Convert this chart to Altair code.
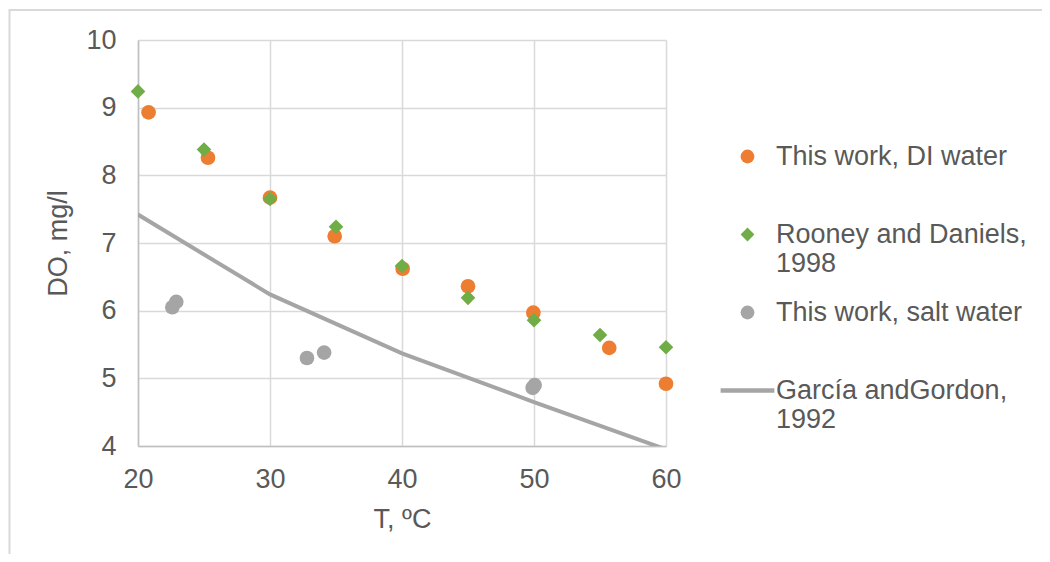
import altair as alt
import pandas as pd

# --- data ---
di_T = [20.8, 25.3, 30.0, 34.9, 40.05, 45.0, 49.95, 55.7, 60.0]
di_DO = [8.93, 8.26, 7.67, 7.10, 6.62, 6.36, 5.97, 5.45, 4.92]

rd_T = [20.0, 25.0, 30.0, 35.0, 40.0, 45.0, 50.0, 55.0, 60.0]
rd_DO = [9.24, 8.38, 7.65, 7.24, 6.66, 6.19, 5.86, 5.64, 5.46]

salt_T = [22.6, 22.9, 32.8, 34.1, 49.9, 50.05]
salt_DO = [6.05, 6.13, 5.30, 5.38, 4.86, 4.90]

gg_T = [20, 30, 40, 50, 60]
gg_DO = [7.42, 6.24, 5.37, 4.65, 3.95]

series_names = [
    "This work, DI water",
    "Rooney and Daniels,|1998",
    "This work, salt water",
    "García andGordon,|1992",
]
series_colors = ["#ED7D31", "#70AD47", "#A5A5A5", "#A5A5A5"]
line_path = "M-3.9,-0.32H3.9V0.32H-3.9Z"
series_shapes = ["circle", "diamond", "circle", line_path]

x_ticks = [20, 30, 40, 50, 60]
y_ticks = [4, 5, 6, 7, 8, 9, 10]

rows = []
for name, ts, vs in [
    (series_names[0], di_T, di_DO),
    (series_names[1], rd_T, rd_DO),
    (series_names[2], salt_T, salt_DO),
    (series_names[3], gg_T, gg_DO),
]:
    for t, v in zip(ts, vs):
        rows.append({"series": name, "T": t, "DO": v})
df = pd.DataFrame(rows)

FONT = "Liberation Sans"
TXT = "#595959"

x_enc = alt.X(
    "T:Q",
    scale=alt.Scale(domain=[20, 60], nice=False, zero=False),
    axis=alt.Axis(
        values=x_ticks,
        title="T, ºC",
        grid=True,
        tickSize=0,
        labelFlush=False,
        labelPadding=20,
        titlePadding=14,
    ),
)
y_enc = alt.Y(
    "DO:Q",
    scale=alt.Scale(domain=[4, 10], nice=False, zero=False),
    axis=alt.Axis(
        values=y_ticks,
        title="DO, mg/l",
        grid=True,
        tickSize=0,
        labelFlush=False,
        labelPadding=22,
        titlePadding=13,
    ),
)

# chart-area frame (Excel chart border, partly cropped in the reference)
frame = (
    alt.Chart(alt.Data(values=[{}]))
    .mark_rect(filled=False, stroke="#D9D9D9", strokeWidth=2, clip=False)
    .encode(
        x=alt.value(-128.5),
        x2=alt.value(930),
        y=alt.value(-30),
        y2=alt.value(560),
    )
)

line = (
    alt.Chart(df)
    .transform_filter(alt.datum.series == series_names[3])
    .mark_line(color="#A5A5A5", strokeWidth=4, clip=True)
    .encode(x=x_enc, y=y_enc, order="T:Q")
)

points = (
    alt.Chart(df)
    .transform_filter(alt.datum.series != series_names[3])
    .mark_point(filled=True, size=215, opacity=1, strokeWidth=0)
    .encode(
        x=x_enc,
        y=y_enc,
        color=alt.Color(
            "series:N",
            scale=alt.Scale(domain=series_names, range=series_colors),
            sort=series_names,
            legend=alt.Legend(
                title=None,
                orient="none",
                legendX=596,
                legendY=103,
                padding=0,
                symbolSize=190,
                symbolStrokeWidth=0,
                labelOffset=15,
                labelFontSize=27,
                labelFont=FONT,
                labelColor=TXT,
                labelLimit=400,
                rowPadding=21,
                labelExpr="split(datum.label + (indexof(datum.label, '|') >= 0 ? '' : '|'), '|')",
            ),
        ),
        shape=alt.Shape(
            "series:N",
            scale=alt.Scale(domain=series_names, range=series_shapes),
            sort=series_names,
        ),
    )
)

chart = (
    alt.layer(frame, line, points)
    .properties(
        width=528,
        height=406,
        autosize=alt.AutoSizeParams(type="none"),
        padding={"left": 130, "top": 32, "right": 376, "bottom": 108},
    )
    .configure_view(stroke=None)
    .configure_axis(
        labelFont=FONT,
        titleFont=FONT,
        labelFontSize=27,
        titleFontSize=27,
        labelColor=TXT,
        titleColor=TXT,
        titleFontWeight="normal",
        gridColor="#D9D9D9",
        gridWidth=1.5,
        domainColor="#BFBFBF",
        domainWidth=1.5,
    )
)

chart.save("out.html", embed_options={"renderer": "svg", "actions": False})
